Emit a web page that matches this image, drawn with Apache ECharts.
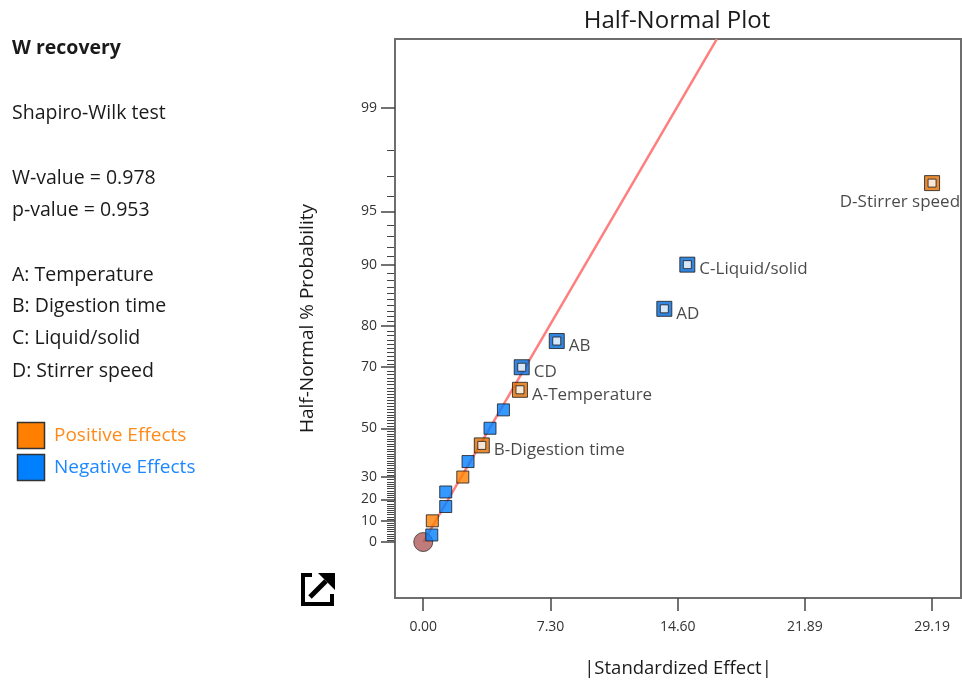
<!DOCTYPE html>
<html>
<head>
<meta charset="utf-8">
<script src="https://cdn.jsdelivr.net/npm/echarts@6/dist/echarts.min.js"></script>
<style>
html,body{margin:0;padding:0;background:#fff;overflow:hidden;}
#chart{width:962px;height:680px;}
</style>
</head>
<body>
<div id="chart"></div>
<script>
// ---- data ----
const responseName = 'W recovery';
const testName = 'Shapiro-Wilk test';
const wValue = '0.978';
const pValue = '0.953';
const factorList = ['A: Temperature', 'B: Digestion time', 'C: Liquid/solid', 'D: Stirrer speed'];

// effects ranked by |standardized effect|
const effectValues = [0.49, 0.52, 1.29, 1.29, 2.27, 2.57, 3.36, 3.83, 4.60, 5.55, 5.65, 7.66, 13.83, 15.15, 29.19];
const effectProbs  = [3.33, 10, 16.67, 23.33, 30, 36.67, 43.33, 50, 56.67, 63.33, 70, 76.67, 83.33, 90, 96.67];
const effectSigns  = ['neg','pos','neg','neg','pos','neg','pos','neg','neg','pos','neg','neg','neg','neg','pos'];
const effectLabels = ['','','','','','','B-Digestion time','','','A-Temperature','CD','AB','AD','C-Liquid/solid','D-Stirrer speed'];

// error estimate origin point
const originEffect = [0];
const originProb = [0];

// fitted line
const fitLineEffect = [0, 16.84];
const fitLineProb = [0, 99.714];

// axis ticks
const yMajorProbs = [0, 10, 20, 30, 50, 70, 80, 90, 95, 99];
const yMinorProbs = [1,2,3,4,5,6,7,8,9,11,12,13,14,15,16,17,18,19,21,22,23,24,25,26,27,28,29,
  31,32,33,34,35,36,37,38,39,40,41,42,43,44,45,46,47,48,49,51,52,53,54,55,56,57,58,59,60,
  61,62,63,64,65,66,67,68,69,71,72,73,74,75,76,77,78,79,81,82,83,84,85,86,87,88,89,91,92,93,94,96,97,98];
const xTickValues = [0, 7.30, 14.60, 21.89, 29.19];
const xTickLabels = ['0.00', '7.30', '14.60', '21.89', '29.19'];

// ---- half-normal probability scale ----
function normInv(p){
  const a=[-3.969683028665376e+01,2.209460984245205e+02,-2.759285104469687e+02,1.383577518672690e+02,-3.066479806614716e+01,2.506628277459239e+00];
  const b=[-5.447609879822406e+01,1.615858368580409e+02,-1.556989798598866e+02,6.680131188771972e+01,-1.328068155288572e+01];
  const c=[-7.784894002430293e-03,-3.223964580411365e-01,-2.400758277161838e+00,-2.549732539343734e+00,4.374664141464968e+00,2.938163982698783e+00];
  const d=[7.784695709041462e-03,3.224671290700398e-01,2.445134137142996e+00,3.754408661907416e+00];
  const pl=0.02425, ph=1-pl; let q,r;
  if(p<pl){q=Math.sqrt(-2*Math.log(p));return (((((c[0]*q+c[1])*q+c[2])*q+c[3])*q+c[4])*q+c[5])/((((d[0]*q+d[1])*q+d[2])*q+d[3])*q+1);}
  if(p<=ph){q=p-0.5;r=q*q;return (((((a[0]*r+a[1])*r+a[2])*r+a[3])*r+a[4])*r+a[5])*q/(((((b[0]*r+b[1])*r+b[2])*r+b[3])*r+b[4])*r+1);}
  q=Math.sqrt(-2*Math.log(1-p));return -(((((c[0]*q+c[1])*q+c[2])*q+c[3])*q+c[4])*q+c[5])/((((d[0]*q+d[1])*q+d[2])*q+d[3])*q+1);
}
function hz(pct){ return pct <= 0 ? 0 : normInv(0.5 + pct/200); }

const FONT = 'Open Sans';
const POS = '#FF8000', NEG = '#0080FF';
const POS_D = '#E06E00', NEG_D = '#0068D8';
const Y_MIN = -0.332, Y_MAX = 2.983;
const X_MIN = -1.62, X_MAX = 30.85;

const smallData = [], bigData = [], innerData = [];
effectValues.forEach((v, i) => {
  const pt = [v, hz(effectProbs[i])];
  const pos = effectSigns[i] === 'pos';
  if (effectLabels[i]) {
    const isD = effectLabels[i] === 'D-Stirrer speed';
    bigData.push({
      value: pt,
      itemStyle: { color: pos ? POS_D : NEG_D, borderColor: '#1a1a1a', borderWidth: 1 },
      label: isD ? { show: true, formatter: effectLabels[i], position: [36, 27], align: 'right', verticalAlign: 'middle' }
                 : { show: true, formatter: effectLabels[i], position: [20, 13], align: 'left', verticalAlign: 'middle' }
    });
    innerData.push({ value: pt, itemStyle: { color: '#fff', borderColor: '#1a1a1a', borderWidth: 1 } });
  } else {
    smallData.push({ value: pt, itemStyle: { color: pos ? POS : NEG, borderColor: '#1a1a1a', borderWidth: 1 } });
  }
});

const chart = echarts.init(document.getElementById('chart'), null, { renderer: 'canvas' });

const leftTexts = [
  { text: responseName, y: 48, bold: true },
  { text: testName, y: 113 },
  { text: 'W-value = ' + wValue, y: 178 },
  { text: 'p-value = ' + pValue, y: 210 },
  { text: factorList[0], y: 275 },
  { text: factorList[1], y: 306 },
  { text: factorList[2], y: 338 },
  { text: factorList[3], y: 371 }
];

const graphics = leftTexts.map(t => ({
  type: 'text', x: 12, y: t.y,
  style: { text: t.text, fill: '#1a1a1a', font: (t.bold ? 'bold 19.5px ' : '19.5px ') + FONT, textVerticalAlign: 'middle' }
}));
graphics.push(
  { type: 'rect', shape: { x: 17.5, y: 422.5, width: 27, height: 26 }, style: { fill: POS, stroke: '#333', lineWidth: 1.5 } },
  { type: 'rect', shape: { x: 17.5, y: 454.5, width: 27, height: 26 }, style: { fill: NEG, stroke: '#333', lineWidth: 1.5 } },
  { type: 'text', x: 54, y: 436, style: { text: 'Positive Effects', fill: '#FF8A1A', font: '19px ' + FONT, textVerticalAlign: 'middle' } },
  { type: 'text', x: 54, y: 468, style: { text: 'Negative Effects', fill: '#1E88FF', font: '19px ' + FONT, textVerticalAlign: 'middle' } },
  // export icon
  { type: 'polyline', shape: { points: [[312, 575], [303, 575], [303, 604], [332, 604], [332, 594]] }, style: { stroke: '#000', lineWidth: 4, fill: null, lineJoin: 'miter', lineCap: 'butt' } },
  { type: 'line', shape: { x1: 310, y1: 597, x2: 326, y2: 581 }, style: { stroke: '#000', lineWidth: 5 } },
  { type: 'polygon', shape: { points: [[318, 573], [335, 573], [335, 590]] }, style: { fill: '#000' } }
);

const option = {
  animation: false,
  backgroundColor: '#fff',
  textStyle: { fontFamily: FONT },
  title: {
    text: 'Half-Normal Plot', left: 677, top: 9, textAlign: 'center', padding: 0,
    textStyle: { fontFamily: FONT, fontSize: 24, fontWeight: 'normal', color: '#1a1a1a' }
  },
  graphic: graphics,
  grid: { left: 395, right: 1, top: 39, bottom: 82, show: true, borderColor: '#6e6e6e', borderWidth: 2, containLabel: false, outerBoundsMode: 'none' },
  xAxis: {
    type: 'value', min: X_MIN, max: X_MAX,
    name: '|Standardized Effect|', nameLocation: 'middle', nameGap: 61,
    nameTextStyle: { fontFamily: FONT, fontSize: 18.5, color: '#1a1a1a' },
    splitLine: { show: false },
    axisLine: { show: true, onZero: false, lineStyle: { color: '#6e6e6e', width: 2 } },
    axisTick: { show: true, length: 13, customValues: xTickValues, lineStyle: { color: '#444', width: 1.5 } },
    axisLabel: { margin: 22, fontSize: 14, color: '#333', customValues: xTickValues,
      formatter: v => { const i = xTickValues.findIndex(t => Math.abs(t - v) < 1e-6); return i >= 0 ? xTickLabels[i] : ''; } }
  },
  yAxis: {
    type: 'value', min: Y_MIN, max: Y_MAX, position: 'left',
    name: 'Half-Normal % Probability', nameLocation: 'middle', nameGap: 78, nameRotate: 90,
    nameTextStyle: { fontFamily: FONT, fontSize: 19, color: '#1a1a1a' },
    splitLine: { show: false },
    axisLine: { show: true, onZero: false, lineStyle: { color: '#6e6e6e', width: 2 } },
    axisTick: { show: true, length: 14, customValues: yMajorProbs.map(hz), lineStyle: { color: '#444', width: 1.5 } },
    axisLabel: { margin: 18, fontSize: 14, color: '#333', customValues: yMajorProbs.map(hz),
      formatter: v => { const i = yMajorProbs.findIndex(p => Math.abs(hz(p) - v) < 1e-6); return i >= 0 ? String(yMajorProbs[i]) : ''; } }
  },
  series: [
    {
      type: 'custom', name: 'minorTicks', silent: true, clip: false, z: 0,
      data: yMinorProbs.map(p => [X_MIN, hz(p)]),
      encode: { x: 0, y: 1 },
      renderItem: (params, api) => {
        const pt = api.coord([api.value(0), api.value(1)]);
        const x0 = Math.round(pt[0]) - 1;
        const y = Math.round(pt[1]) + 0.5;
        return { type: 'line', shape: { x1: x0 - 7, y1: y, x2: x0, y2: y }, style: { stroke: '#444', lineWidth: 1 } };
      }
    },
    {
      type: 'line', name: 'fit', data: fitLineEffect.map((v, i) => [v, hz(fitLineProb[i])]),
      showSymbol: false, symbol: 'none', lineStyle: { color: '#FF7F7F', width: 2.5 }, z: 1, silent: true
    },
    {
      type: 'scatter', name: 'origin', data: originEffect.map((v, i) => [v, hz(originProb[i])]),
      symbol: 'circle', symbolSize: 19, itemStyle: { color: '#B05A5A', borderColor: '#333', borderWidth: 1 }, z: 2
    },
    {
      type: 'scatter', name: 'effects', data: smallData, symbol: 'rect', symbolSize: 12, z: 3
    },
    {
      type: 'scatter', name: 'labeled', data: bigData, symbol: 'rect', symbolSize: 15, z: 4,
      label: { fontFamily: FONT, fontSize: 17, color: '#1a1a1a' }
    },
    {
      type: 'scatter', name: 'labeledInner', data: innerData, symbol: 'rect', symbolSize: 8, z: 5, silent: true
    }
  ]
};
chart.setOption(option);
</script>
</body>
</html>
